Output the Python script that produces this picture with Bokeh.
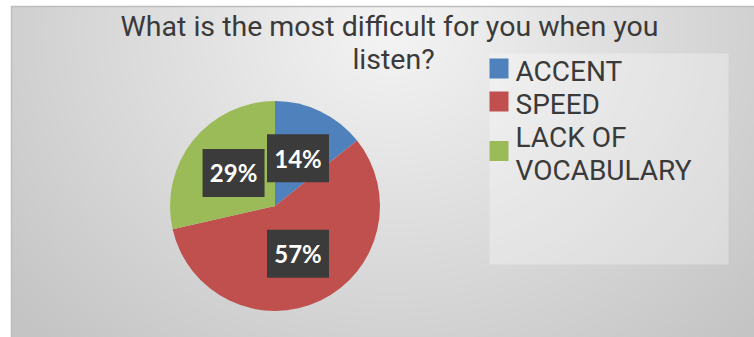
import math
import textwrap
import numpy as np
from bokeh.plotting import figure
from bokeh.models import ColumnDataSource, Range1d
from bokeh.core.properties import value
from bokeh.embed import file_html
from bokeh.resources import INLINE

# ---- data ----
title_lines = ["What is the most difficult for you when you", "listen?"]
categories = ["ACCENT", "SPEED", "LACK OF VOCABULARY"]
counts = [1, 4, 2]
colors = ["#4f81bd", "#c0504d", "#9bbb59"]

W, H = 754, 337
p = figure(width=W, height=H, output_backend="svg", toolbar_location=None,
           x_range=Range1d(0, W), y_range=Range1d(0, H), min_border=0,
           background_fill_color="white", border_fill_color="white")
p.axis.visible = False
p.grid.visible = False
p.outline_line_color = None

def Y(y):
    return H - y

# background panel with radial gradient
px0, py0 = 11, 6
pw, ph = W - px0, H - py0
yy, xx = np.mgrid[0:ph, 0:pw]
top_y = ph - 1 - yy
cx, cy = 390 - px0, 25
d = np.sqrt(((xx - cx) / 1.0) ** 2 + ((top_y - cy) / 0.85) ** 2)
g = np.clip(244 - 0.095 * d, 196, 245).astype(np.uint32)
img = (255 << 24) | (g << 16) | (g << 8) | g
p.image_rgba(image=[img.astype(np.uint32)], x=px0, y=0, dw=pw, dh=ph)
p.line([px0, px0, W], [0, Y(py0), Y(py0)], line_color="#bdbdbd", line_width=1.5)

# legend box
p.quad(left=489, right=728, bottom=Y(264), top=Y(53),
       fill_color="white", fill_alpha=0.3, line_color=None)

# pie
cx_p, cy_p, r = 274.5, Y(205.5), 105
total = sum(counts)
fr = [c / total for c in counts]
cum = np.concatenate([[0], np.cumsum(fr)])
start = [math.pi / 2 - 2 * math.pi * cum[i] for i in range(len(counts))]
end = [math.pi / 2 - 2 * math.pi * cum[i + 1] for i in range(len(counts))]
src = ColumnDataSource(dict(start=start, end=end, color=colors))
p.wedge(x=cx_p, y=cy_p, radius=r, start_angle="start", end_angle="end",
        direction="clock", fill_color="color", line_color=None, source=src)

# data labels
mid = [(cum[i] + cum[i + 1]) / 2 * 2 * math.pi for i in range(len(counts))]
dl = 0.505 * r
lx = [cx_p + dl * math.sin(a) for a in mid]
ly = [cy_p + dl * math.cos(a) for a in mid]
labels = [f"{round(f * 100)}%" for f in fr]
lsrc = ColumnDataSource(dict(x=lx, y=ly, t=labels))
p.rect(x="x", y="y", width=62, height=48, fill_color="#3b3b3b",
       line_color=None, source=lsrc)
p.text(x="x", y="y", text="t", text_color="white", text_font=value("Lato"),
       text_font_style="bold", text_font_size="24px", text_align="center",
       text_baseline="middle", source=lsrc)

# title
p.text(x=[389, 393], y=[Y(26), Y(59)], text=title_lines, text_color="#3a3a3a",
       text_font=value("Roboto"), text_font_size="28.5px", text_align="center",
       text_baseline="alphabetic")

# legend
line_h = 33
base0 = 78
ti_x, ti_y, ti_t = [], [], []
sq_top = []
row = 0
for cat in categories:
    lines = textwrap.wrap(cat, 10)
    first = base0 + row * line_h
    for j, ln in enumerate(lines):
        ti_x.append(515)
        ti_y.append(Y(first + j * line_h - 7))
        ti_t.append(ln)
    last = first + (len(lines) - 1) * line_h
    center = (first - 20 + last) / 2
    sq_top.append(center)
    row += len(lines)
p.rect(x=[498.5] * len(categories), y=[Y(c) for c in sq_top], width=19, height=20,
       fill_color=colors, line_color=None)
p.text(x=ti_x, y=ti_y, text=ti_t, text_color="#3a3a3a", text_font=value("Roboto"),
       text_font_size="28px", text_align="left", text_baseline="alphabetic")

open("out.html", "w").write(file_html(p, INLINE))
